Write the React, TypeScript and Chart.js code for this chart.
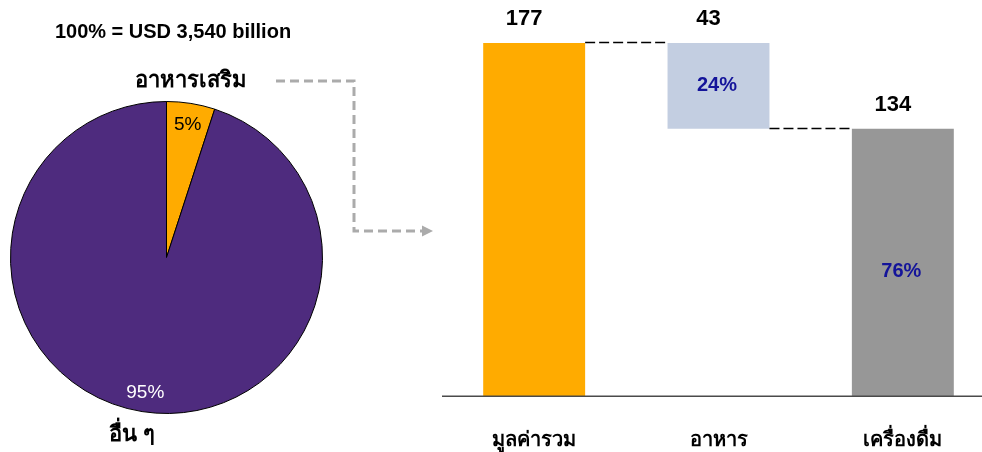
import React, { useEffect, useRef } from "react";
import { Chart, registerables } from "chart.js";

Chart.register(...registerables);

// ---- data ----
const pieTitle = "100% = USD 3,540 billion";
const pieLabels = ["อาหารเสริม", "อื่น ๆ"];
const pieValues = [5, 95];

const categories = ["มูลค่ารวม", "อาหาร", "เครื่องดื่ม"];
const values = [177, 43, 134];
const shareLabels = ["", "24%", "76%"];

const FONT = "Arial, 'Liberation Sans', Tahoma, sans-serif";
const ORANGE = "#FFAB00";
const PURPLE = "#4E2B7E";
const LIGHTBLUE = "#C3CEE1";
const GRAY = "#979797";
const DARKBLUE = "#14149A";

// waterfall ranges built from values
const total = values[0];
const ranges: [number, number][] = [
  [0, total],
  [total - values[1], total],
  [0, values[2]],
];
const connectorLevels = [total, total - values[1]];

const piePlugin = {
  id: "pieDecor",
  afterDraw(chart: any) {
    const ctx = chart.ctx as CanvasRenderingContext2D;
    const meta = chart.getDatasetMeta(0);
    ctx.save();
    ctx.textAlign = "center";
    ctx.textBaseline = "middle";
    // slice labels
    meta.data.forEach((arc: any, i: number) => {
      const p = arc.getProps(["x", "y", "startAngle", "endAngle", "outerRadius"], true);
      const mid = (p.startAngle + p.endAngle) / 2;
      const r = p.outerRadius * 0.87;
      ctx.fillStyle = i === 0 ? "#000" : "#fff";
      ctx.font = `19px ${FONT}`;
      ctx.fillText(`${pieValues[i]}%`, p.x + Math.cos(mid) * r, p.y + Math.sin(mid) * r + 1);
    });
    // title
    ctx.fillStyle = "#000";
    ctx.font = `bold 20px ${FONT}`;
    ctx.fillText(pieTitle, 173, 32);
    // category names
    ctx.font = `bold 22px ${FONT}`;
    ctx.fillText(pieLabels[0], 191, 81);
    ctx.fillText(pieLabels[1], 132, 435);
    // dashed arrow
    ctx.strokeStyle = "#ABABAB";
    ctx.lineWidth = 3;
    ctx.setLineDash([9, 5]);
    ctx.beginPath();
    ctx.moveTo(276, 81);
    ctx.lineTo(354, 81);
    ctx.lineTo(354, 231);
    ctx.lineTo(423, 231);
    ctx.stroke();
    ctx.setLineDash([]);
    ctx.fillStyle = "#ABABAB";
    ctx.beginPath();
    ctx.moveTo(433, 231);
    ctx.lineTo(422, 225.5);
    ctx.lineTo(422, 236.5);
    ctx.closePath();
    ctx.fill();
    ctx.restore();
  },
};

const barPlugin = {
  id: "barDecor",
  afterDraw(chart: any) {
    const ctx = chart.ctx as CanvasRenderingContext2D;
    const meta = chart.getDatasetMeta(0);
    const yScale = chart.scales.y;
    const area = chart.chartArea;
    ctx.save();
    // axis line
    ctx.strokeStyle = "#4A4A4A";
    ctx.lineWidth = 1.6;
    ctx.beginPath();
    ctx.moveTo(area.left, area.bottom + 0.2);
    ctx.lineTo(chart.width, area.bottom + 0.2);
    ctx.stroke();
    // connectors
    ctx.strokeStyle = "#000";
    ctx.lineWidth = 1.4;
    ctx.setLineDash([10, 4]);
    for (let i = 0; i < meta.data.length - 1; i++) {
      const a = meta.data[i];
      const b = meta.data[i + 1];
      const y = Math.round(yScale.getPixelForValue(connectorLevels[i])) - 0.5;
      ctx.beginPath();
      ctx.moveTo(a.x + a.width / 2, y);
      ctx.lineTo(b.x - b.width / 2, y);
      ctx.stroke();
    }
    ctx.setLineDash([]);
    // value labels
    ctx.textAlign = "center";
    ctx.textBaseline = "middle";
    ctx.fillStyle = "#000";
    ctx.font = `bold 22px ${FONT}`;
    meta.data.forEach((bar: any, i: number) => {
      ctx.fillText(String(values[i]), bar.x - 10, bar.y - 23.5);
    });
    // share labels
    const shareOffsets = [0, 0, 9];
    ctx.fillStyle = DARKBLUE;
    ctx.font = `bold 20px ${FONT}`;
    meta.data.forEach((bar: any, i: number) => {
      if (!shareLabels[i]) return;
      const mid = (bar.y + bar.base) / 2;
      ctx.fillText(shareLabels[i], bar.x - 1.5, mid + shareOffsets[i]);
    });
    ctx.restore();
  },
};

export default function App() {
  const pieRef = useRef<HTMLCanvasElement>(null);
  const barRef = useRef<HTMLCanvasElement>(null);

  useEffect(() => {
    const pie = new Chart(pieRef.current!, {
      type: "pie",
      data: {
        labels: pieLabels,
        datasets: [
          {
            data: pieValues,
            backgroundColor: [ORANGE, PURPLE],
            borderColor: "#000",
            borderWidth: 1,
          },
        ],
      },
      options: {
        animation: false,
        responsive: false,
        maintainAspectRatio: false,
        layout: { padding: { left: 10, top: 101, right: 117, bottom: 38 } },
        plugins: { legend: { display: false }, tooltip: { enabled: false } },
      },
      plugins: [piePlugin],
    } as any);

    const bar = new Chart(barRef.current!, {
      type: "bar",
      data: {
        labels: categories,
        datasets: [
          {
            data: ranges,
            backgroundColor: [ORANGE, LIGHTBLUE, GRAY],
            borderWidth: 0,
            categoryPercentage: 1,
            barPercentage: 0.553,
          },
        ],
      },
      options: {
        animation: false,
        responsive: false,
        maintainAspectRatio: false,
        layout: { padding: { left: 2, right: 1, top: 1, bottom: 0 } },
        plugins: { legend: { display: false }, tooltip: { enabled: false } },
        scales: {
          x: {
            grid: { display: false, drawTicks: false },
            border: { display: false },
            ticks: {
              color: "#000",
              font: { family: FONT, size: 20, weight: "bold" },
              padding: 32,
              maxRotation: 0,
              autoSkip: false,
            },
            afterFit: (s: any) => {
              s.height = 56;
            },
          },
          y: { display: false, min: 0, max: 198 },
        },
      },
      plugins: [barPlugin],
    } as any);

    return () => {
      pie.destroy();
      bar.destroy();
    };
  }, []);

  return (
    <div
      style={{
        position: "fixed",
        left: 0,
        top: 0,
        width: 982,
        height: 452,
        overflow: "hidden",
        background: "#fff",
      }}
    >
      <canvas
        ref={pieRef}
        width={440}
        height={452}
        style={{ position: "absolute", left: 0, top: 0, width: 440, height: 452 }}
      />
      <canvas
        ref={barRef}
        width={556}
        height={452}
        style={{ position: "absolute", left: 440, top: 0, width: 556, height: 452 }}
      />
    </div>
  );
}
